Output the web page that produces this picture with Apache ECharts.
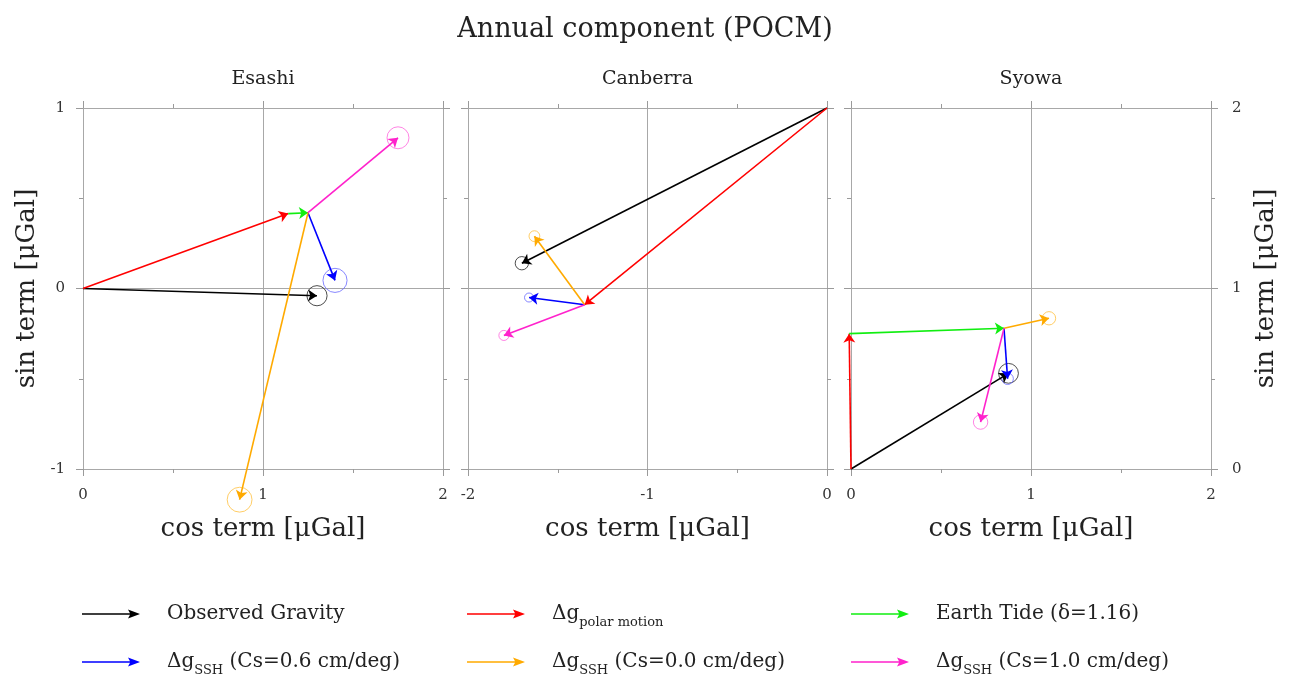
<!DOCTYPE html>
<html>
<head>
<meta charset="utf-8">
<script src="https://cdn.jsdelivr.net/npm/echarts@6/dist/echarts.min.js"></script>
<style>html,body{margin:0;padding:0;background:#fff}#c{width:1290px;height:678px}</style>
</head>
<body>
<div id="c"></div>
<script>
// ---- data ----
const stationNames = ['Esashi', 'Canberra', 'Syowa'];
const componentNames = ['Observed Gravity', 'polar', 'tide', 'ssh06', 'ssh00', 'ssh10'];
const componentLabels = ['Observed Gravity', '{m|Δg}{s|polar motion}', 'Earth Tide (δ=1.16)',
  '{m|Δg}{s|SSH}{m| (Cs=0.6 cm/deg)}', '{m|Δg}{s|SSH}{m| (Cs=0.0 cm/deg)}', '{m|Δg}{s|SSH}{m| (Cs=1.0 cm/deg)}'];
// vector end points [cos, sin] in μGal, order: observed, polar motion, earth tide, SSH 0.6, SSH 0.0, SSH 1.0
const esashiEnds = [[1.30, -0.04], [1.14, 0.415], [1.25, 0.42], [1.40, 0.045], [0.87, -1.17], [1.75, 0.835]];
const canberraEnds = [[-1.70, -0.86], [-1.35, -1.09], null, [-1.66, -1.05], [-1.63, -0.71], [-1.80, -1.26]];
const syowaEnds = [[0.875, 0.53], [-0.01, 0.75], [0.85, 0.78], [0.87, 0.50], [1.10, 0.835], [0.72, 0.26]];
// error circle radii in μGal
const esashiErr = [0.056, null, null, 0.067, 0.069, 0.061];
const canberraErr = [0.037, null, null, 0.025, 0.03, 0.028];
const syowaErr = [0.055, null, null, 0.032, 0.037, 0.04];
// axis ranges (cos, sin)
const xRanges = [[0, 2], [-2, 0], [0, 2]];
const yRanges = [[-1, 1], [-2, 0], [0, 2]];

// ---- styles ----
const FONT = 'DejaVu Serif';
const colors = ['#000000', '#ff0000', '#11ee11', '#0000ff', '#ffaa00', '#ff22cc'];
const circleColors = ['#222222', null, null, '#6a6aff', '#ffc040', '#ff66dd'];
const gridLeft = [83, 468, 851];
const gridWidth = [360, 359, 360];
const PX_PER_UNIT = 180;

const allEnds = [esashiEnds, canberraEnds, syowaEnds];
const allErr = [esashiErr, canberraErr, syowaErr];

function startOf(ends, i) {
  if (i < 2) return [0, 0];
  if (i === 2) return ends[1];
  return ends[2] || ends[1];
}

const grids = [], xAxes = [], yAxes = [], series = [];
const tickCol = '#9a9a9a';
function baseAxis(range) {
  return {
    type: 'value', min: range[0], max: range[1], interval: 1,
    axisLine: { show: false, onZero: false },
    axisTick: { show: true, length: 7, inside: false, lineStyle: { color: tickCol, width: 1 } },
    minorTick: { show: true, splitNumber: 2, length: 4, lineStyle: { color: tickCol, width: 1 } },
    axisLabel: { show: false, fontFamily: FONT, fontSize: 15, color: '#333' },
    splitLine: { show: false, lineStyle: { color: '#a8a8a8', width: 1 } }
  };
}

const nameStyle = { fontFamily: FONT, fontSize: 26, color: '#222' };
for (let p = 0; p < 3; p++) {
  grids.push({ left: gridLeft[p], top: 108, width: gridWidth[p], height: 361 });
  const xb = baseAxis(xRanges[p]);
  xb.gridIndex = p; xb.position = 'bottom';
  xb.axisLabel.show = true; xb.axisLabel.margin = 19;
  xb.splitLine.show = true;
  xb.name = 'cos term [μGal]'; xb.nameLocation = 'middle'; xb.nameGap = 47;
  xb.nameTextStyle = nameStyle;
  const xt = baseAxis(xRanges[p]);
  xt.gridIndex = p; xt.position = 'top';
  xt.name = stationNames[p]; xt.nameLocation = 'middle'; xt.nameGap = 19;
  xt.nameTextStyle = { fontFamily: FONT, fontSize: 19, color: '#222' };
  xAxes.push(xb, xt);

  const yl = baseAxis(yRanges[p]);
  yl.gridIndex = p; yl.position = 'left'; yl.splitLine.show = true;
  const yr = baseAxis(yRanges[p]);
  yr.gridIndex = p; yr.position = 'right';
  if (p === 0) {
    yl.axisLabel.show = true; yl.axisLabel.margin = 18;
    yl.name = 'sin term [μGal]'; yl.nameLocation = 'middle'; yl.nameGap = 43;
    yl.nameTextStyle = nameStyle;
  }
  if (p === 2) {
    yr.axisLabel.show = true; yr.axisLabel.margin = 21;
    yr.name = 'sin term [μGal]'; yr.nameLocation = 'middle'; yr.nameGap = 42;
    yr.nameTextStyle = nameStyle;
  }
  yAxes.push(yl, yr);

  const ends = allEnds[p], errs = allErr[p];
  for (let i = 0; i < componentNames.length; i++) {
    if (!ends[i]) continue;
    series.push({
      type: 'lines', name: componentNames[i], coordinateSystem: 'cartesian2d',
      xAxisIndex: 2 * p, yAxisIndex: 2 * p, silent: true, clip: false, z: 3,
      symbol: ['none', 'arrow'], symbolSize: 9,
      lineStyle: { color: colors[i], width: 1.6, opacity: 1, curveness: 0 },
      itemStyle: { color: colors[i] },
      data: [{ coords: [startOf(ends, i), ends[i]] }]
    });
    if (errs[i]) {
      series.push({
        type: 'scatter', name: 'err-' + componentNames[i], xAxisIndex: 2 * p, yAxisIndex: 2 * p,
        silent: true, clip: false, z: 2, symbol: 'circle',
        symbolSize: v => v[2] * 2 * PX_PER_UNIT,
        itemStyle: { color: 'transparent', borderColor: circleColors[i], borderWidth: 1 },
        data: [[ends[i][0], ends[i][1], errs[i]]]
      });
    }
  }
}

const arrowIcon = 'path://M0,4.2 L48,4.2 L46,0.5 L58,5 L46,9.5 L48,5.8 L0,5.8 Z';
const legendLeft = [82, 467, 851];
const legendTopPlain = [604, 652];
const legendTopRich = [598.5, 646.5];
const rich = {
  m: { fontFamily: FONT, fontSize: 20, color: '#222', lineHeight: 20 },
  s: { fontFamily: FONT, fontSize: 13, color: '#222', lineHeight: 13, padding: [18, 0, 0, 0] }
};
const legends = componentNames.map((n, i) => {
  const isRich = componentLabels[i].indexOf('{s|') >= 0;
  const row = Math.floor(i / 3);
  return {
    data: [{ name: n, icon: arrowIcon, itemStyle: { color: colors[i], borderWidth: 0 } }],
    left: legendLeft[i % 3], top: isRich ? legendTopRich[row] : legendTopPlain[row],
    padding: 0, itemWidth: 58, itemHeight: 10, selectedMode: false,
    formatter: () => componentLabels[i],
    textStyle: { fontFamily: FONT, fontSize: 20, color: '#222', padding: [0, 0, 0, 22], rich: rich }
  };
});

const chart = echarts.init(document.getElementById('c'), null, { renderer: 'canvas' });
chart.setOption({
  backgroundColor: '#fff',
  animation: false,
  title: { text: 'Annual component (POCM)', left: 'center', top: 11,
    textStyle: { fontFamily: FONT, fontSize: 27, fontWeight: 'normal', color: '#222' } },
  legend: legends,
  grid: grids, xAxis: xAxes, yAxis: yAxes, series: series
});
</script>
</body>
</html>
